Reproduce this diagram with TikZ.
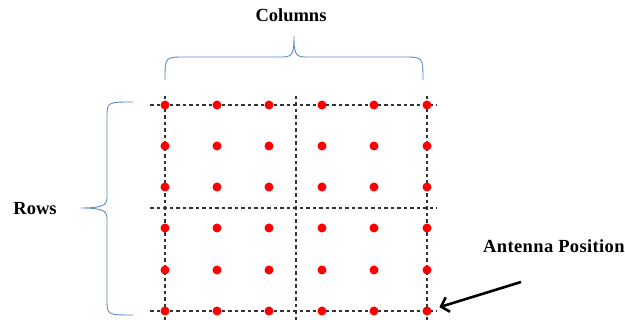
\documentclass[tikz,border=0pt]{standalone}
\usepackage{fontspec}
\setmainfont{Liberation Serif}
\usetikzlibrary{arrows.meta}
\definecolor{bracecol}{HTML}{5B89C6}
\definecolor{gridcol}{HTML}{333333}
\tikzset{
  gridline/.style={draw=gridcol, line width=1.3pt, dash pattern=on 3.5pt off 3pt},
  elem/.style={circle, fill=red, inner sep=0pt, minimum size=9pt},
  bracket/.style={draw=bracecol, line width=0.9pt},
  label/.style={font=\bfseries\fontsize{18.5}{22}\selectfont, inner sep=0pt},
  pointer/.style={draw=black, line width=2.6pt, shorten >=13pt,
    -{Straight Barb[length=7pt,width=15pt]}}
}
\begin{document}
\begin{tikzpicture}[x=1pt, y=-1pt]
\useasboundingbox (0,0) rectangle (625,320);
% dashed grid
\foreach \y in {105,208,311} \draw[gridline] (150,\y) -- (437,\y);
\foreach \x in {165,296,427} \draw[gridline] (\x,96) -- (\x,322);
% antenna elements, 6 x 6
\foreach \x [count=\i] in {165,217,269,322,374,427}
  \foreach \y [count=\j] in {105,146,187,228,270,311}
    \node[elem] (e\i\j) at (\x,\y) {};
% column brace
\draw[bracket] (165,80) .. controls (165,57) and (165,57) .. (185,57) -- (283,57)
  .. controls (293,57) and (294,52) .. (294,36)
  .. controls (294,52) and (295,57) .. (305,57) -- (403,57)
  .. controls (423,57) and (423,57) .. (423,80);
% row brace
\draw[bracket] (133,102) .. controls (107,102) and (107,102) .. (107,118) -- (107,198)
  .. controls (107,206) and (100,208) .. (81,208)
  .. controls (100,208) and (107,210) .. (107,218) -- (107,299)
  .. controls (107,315) and (107,315) .. (133,315);
% labels
\node[label] (cols) at (291,15) {Columns};
\node[label] (rows) at (35,209) {Rows};
\node[label, anchor=west] (ant) at (483,246) {\addfontfeature{LetterSpace=2}Antenna\hspace{5pt}Position};
% pointer to the corner element
\coordinate (ptail) at (521,282);
\draw[pointer] (ptail) -- (e66.center);
\end{tikzpicture}
\end{document}
